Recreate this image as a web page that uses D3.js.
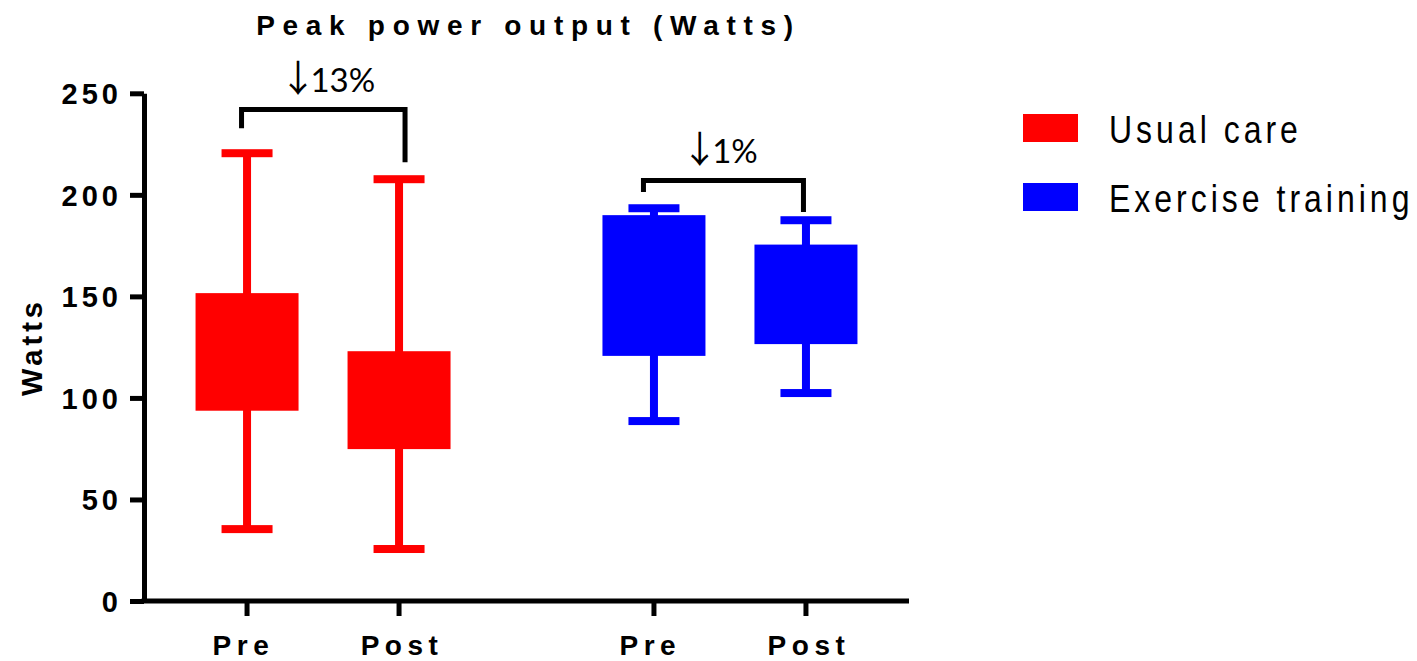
<!DOCTYPE html>
<html>
<head>
<meta charset="utf-8">
<script src="https://cdn.jsdelivr.net/npm/d3@7"></script>
<style>
  body { margin: 0; background: #fff; }
  text { font-family: "Liberation Sans", Arial, sans-serif; }
</style>
</head>
<body>
<svg id="chart" width="1417" height="661"></svg>
<script>
// data
var groups = ["Usual care", "Exercise training"];
var phases = ["Pre", "Post"];
var colors = ["#ff0000", "#0000ff"];

// one entry per box: Usual care Pre, Usual care Post, Exercise Pre, Exercise Post
var whiskerMin = [35.4, 25.6, 88.6, 102.4];
var q1 = [93.7, 74.8, 120.7, 126.5];
var q3 = [151.6, 123.0, 190.0, 175.5];
var whiskerMax = [220.5, 207.7, 193.4, 187.5];

var yTicks = [0, 50, 100, 150, 200, 250];

// change brackets above each group
var changeLabels = ["13%", "1%"];
var bracketTop = [242, 207];
var bracketLeft = [232.8, 201.4];
var bracketRight = [216, 191.6];

var svg = d3.select("#chart");

// (don't call these top/left at global scope, window.top is taken)
var plotL = 144, plotR = 909, plotT = 93.3, plotB = 601;

var y = d3.scaleLinear().domain([0, 250]).range([plotB, plotT]);
var x0 = d3.scalePoint().domain(groups).range([plotL, plotR]).padding(0.44);
var x1 = d3.scalePoint().domain(phases).range([-76, 76]);

var boxes = [];
groups.forEach(function(g, gi){
  phases.forEach(function(p, pi){
    var i = gi * 2 + pi;
    boxes.push({group: g, phase: p, gi: gi, x: x0(g) + x1(p),
      lo: whiskerMin[i], q1: q1[i], q3: q3[i], hi: whiskerMax[i]});
  });
});

// title
svg.append("text")
  .attr("x", (plotL + plotR) / 2 + 2)
  .attr("y", 35)
  .attr("text-anchor", "middle")
  .style("font-size", "28px")
  .style("font-weight", "bold")
  .style("letter-spacing", "7.7px")
  .text("Peak power output (Watts)");

// y axis
var yAxis = svg.append("g")
  .attr("transform", "translate(" + plotL + ",0)")
  .call(d3.axisLeft(y).tickValues(yTicks).tickSize(14).tickSizeOuter(0).tickPadding(8));
yAxis.select(".domain").attr("stroke", "#000").attr("stroke-width", 5);
yAxis.selectAll(".tick line").attr("stroke", "#000").attr("stroke-width", 5);
yAxis.selectAll(".tick text")
  .attr("fill", "#000")
  .attr("dy", "0.36em")
  .style("font-family", "'Liberation Sans', Arial, sans-serif")
  .style("font-size", "29px")
  .style("font-weight", "bold")
  .style("letter-spacing", "4px");

svg.append("text")
  .attr("transform", "translate(42,347) rotate(-90)")
  .attr("text-anchor", "middle")
  .style("font-size", "29px")
  .style("font-weight", "bold")
  .style("letter-spacing", "4px")
  .text("Watts");

// x axis
svg.append("line")
  .attr("x1", plotL - 2.5).attr("x2", plotR)
  .attr("y1", plotB).attr("y2", plotB)
  .attr("stroke", "#000").attr("stroke-width", 5);

svg.selectAll(".xtick").data(boxes).enter().append("line")
  .attr("class", "xtick")
  .attr("x1", d => d.x).attr("x2", d => d.x)
  .attr("y1", plotB).attr("y2", plotB + 15)
  .attr("stroke", "#000").attr("stroke-width", 5);

svg.selectAll(".xlabel").data(boxes).enter().append("text")
  .attr("class", "xlabel")
  .attr("x", d => d.x + 3)
  .attr("y", 655)
  .attr("text-anchor", "middle")
  .style("white-space", "pre")
  .style("font-size", "28px")
  .style("font-weight", "bold")
  .style("letter-spacing", "5.5px")
  .text(d => d.phase == "Pre" ? "Pre " : d.phase);

// boxes and whiskers
var boxW = 103, capW = 51, lineW = 8;
var bx = svg.selectAll(".box").data(boxes).enter().append("g").attr("class", "box")
  .attr("fill", d => colors[d.gi]);

bx.append("rect")
  .attr("x", d => d.x - lineW / 2).attr("width", lineW)
  .attr("y", d => y(d.hi)).attr("height", d => y(d.lo) - y(d.hi));
bx.append("rect")
  .attr("x", d => d.x - capW / 2).attr("width", capW)
  .attr("y", d => y(d.hi) - lineW / 2).attr("height", lineW);
bx.append("rect")
  .attr("x", d => d.x - capW / 2).attr("width", capW)
  .attr("y", d => y(d.lo) - lineW / 2).attr("height", lineW);
bx.append("rect")
  .attr("x", d => d.x - boxW / 2).attr("width", boxW)
  .attr("y", d => y(d.q3)).attr("height", d => y(d.q1) - y(d.q3));

// brackets + "↓ xx%" labels
var legNudge = [[-5.5, 6], [-10.5, -2.5]];
groups.forEach(function(g, gi){
  var xl = x0(g) + x1("Pre") + legNudge[gi][0];
  var xr = x0(g) + x1("Post") + legNudge[gi][1];
  svg.append("path")
    .attr("d", "M" + xl + "," + y(bracketLeft[gi]) + "V" + y(bracketTop[gi]) +
               "H" + xr + "V" + y(bracketRight[gi]))
    .attr("fill", "none").attr("stroke", "#000").attr("stroke-width", 5);
  var t = svg.append("text")
    .attr("x", (xl + xr) / 2 + (gi == 0 ? 4 : -4))
    .attr("y", y(bracketTop[gi]) - 18)
    .attr("text-anchor", "middle")
    .style("font-family", "Lato, 'Open Sans', sans-serif")
    .style("font-size", "33px");
  t.append("tspan")
    .style("font-family", "'Noto Sans CJK SC', 'DejaVu Sans', sans-serif")
    .style("font-size", "37px")
    .text("\u2193");
  t.append("tspan").attr("dx", -6).text(changeLabels[gi]);
});

// legend
var lg = svg.selectAll(".legend").data(groups).enter().append("g")
  .attr("class", "legend")
  .attr("transform", (d, i) => "translate(1023," + (114 + i * 69) + ")");
lg.append("rect")
  .attr("width", 55).attr("height", 28)
  .attr("fill", (d, i) => colors[i]);
lg.append("text")
  .attr("transform", "translate(86,28.5) scale(1,1.21)")
  .style("font-size", "32px")
  .style("letter-spacing", "4px")
  .text(d => d);
</script>
</body>
</html>
